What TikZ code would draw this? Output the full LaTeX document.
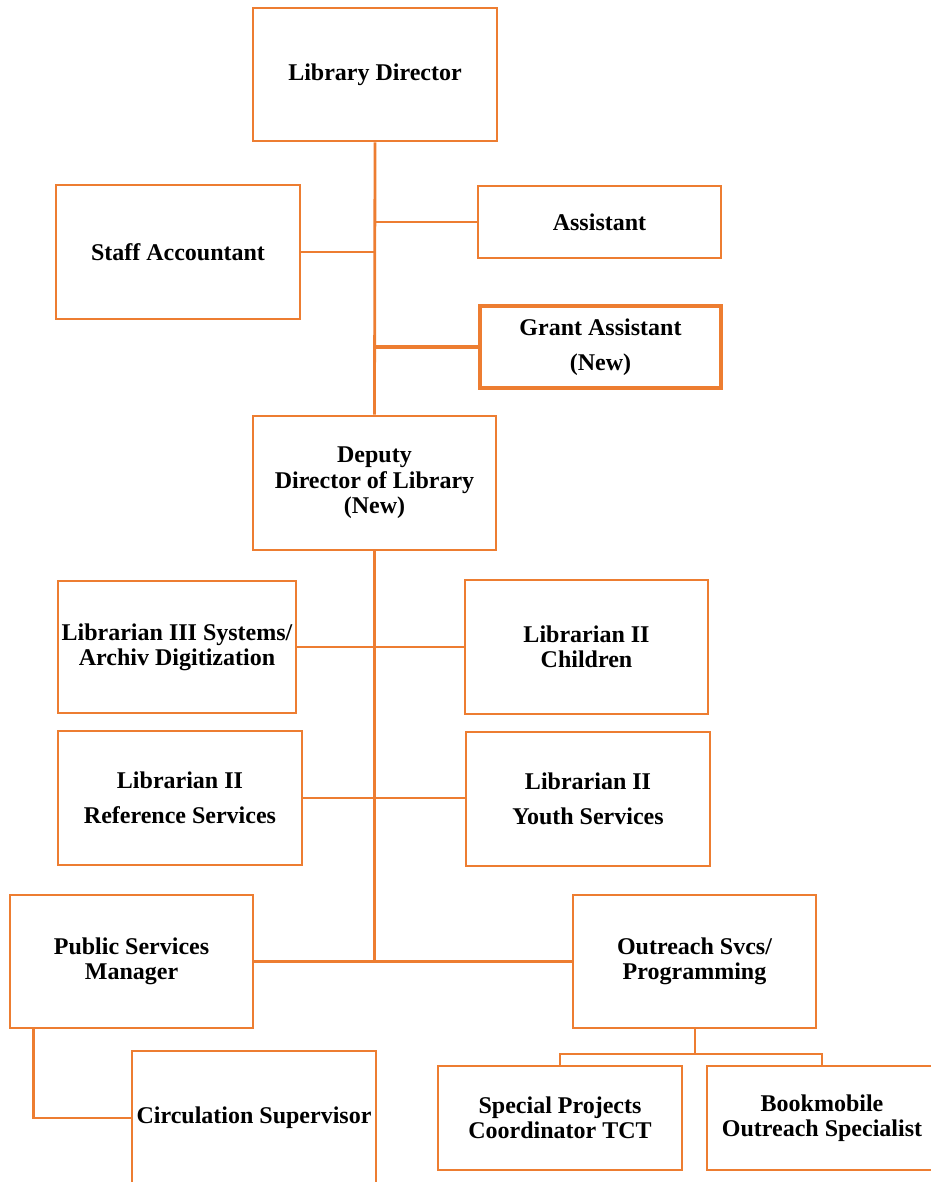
\documentclass[tikz,border=0pt]{standalone}
\usepackage{fontspec}
\setmainfont{Liberation Serif}
\usetikzlibrary{calc}
\definecolor{orgline}{RGB}{237,125,49}
\begin{document}
\begin{tikzpicture}[x=0.75pt,y=-0.75pt,
  posbox/.style={draw=orgline,line width=2.1pt,fill=white,inner sep=0pt,
    align=center,font=\fontsize{18}{19}\selectfont\bfseries},
  link/.style={draw=orgline,line width=2.1pt},
  thinlink/.style={draw=orgline,line width=1.5pt}]
\useasboundingbox (0,0) rectangle (931,1182);
\clip (0,0) rectangle (931,1182);

% top level
\node[posbox,minimum width=183pt,minimum height=99.75pt] (dir) at (375,74.5) {Library Director};
\node[posbox,minimum width=182.25pt,minimum height=54pt] (asst) at (599.5,222) {Assistant};
\node[posbox,minimum width=183pt,minimum height=100.5pt] (staff) at (178,252) {Staff Accountant};
\node[posbox,line width=2.8pt,minimum width=180.75pt,minimum height=61.5pt] (grant) at (600.5,347) {Grant Assistant\\[7.5pt](New)};
\node[posbox,minimum width=182.25pt,minimum height=100.5pt] (dep) at (374.5,483) {Deputy\\Director of Library\\(New)};

% librarians
\node[posbox,minimum width=178.5pt,minimum height=99pt] (lib3) at (177,647) {Librarian III Systems/\\Archiv Digitization};
\node[posbox,minimum width=182.25pt,minimum height=100.5pt] (child) at (586.5,647) {Librarian II\\Children};
\node[posbox,minimum width=183pt,minimum height=100.5pt] (ref) at (180,798) {Librarian II\\[7.5pt]Reference Services};
\node[posbox,minimum width=183pt,minimum height=100.5pt] (youth) at (588,799) {Librarian II\\[7.5pt]Youth Services};

% managers
\node[posbox,minimum width=182.25pt,minimum height=99.75pt] (pub) at (131.5,961.5) {Public Services\\Manager};
\node[posbox,minimum width=182.25pt,minimum height=99.75pt] (out) at (694.5,961.5) {Outreach Svcs/\\Programming};

% bottom row
\node[posbox,minimum width=183pt,minimum height=100.5pt] (circ) at (254,1118) {Circulation Supervisor};
\node[posbox,minimum width=183pt,minimum height=78pt] (spec) at (560,1118) {Special Projects\\Coordinator TCT};
\node[posbox,minimum width=172.5pt,minimum height=78pt] (book) at (822,1118) {Bookmobile\\Outreach Specialist};

% connectors
\draw[link] (dir.south) -- (dep.north);
\draw[link] (asst.west) -- (asst.west -| dir.south);
\draw[link] (staff.east) -- (staff.east -| dir.south);
\draw[link,line width=2.8pt] (grant.west) -- (grant.west -| dir.south);
\draw[link] (dep.south) -- (dep.south |- pub.east);
\draw[link] (lib3.east) -- (child.west);
\draw[link] (ref.east) -- (ref.east -| youth.west);
\draw[link] (pub.east) -- (out.west);
\coordinate (pubdrop) at ($(pub.south west)+(25,0)$);
\draw[link] (pubdrop) |- (circ.west);
\draw[thinlink] (out.south) -- ++(0,25) coordinate (fork);
\draw[thinlink] (spec.north) |- (fork) -| (book.north);
\end{tikzpicture}
\end{document}
